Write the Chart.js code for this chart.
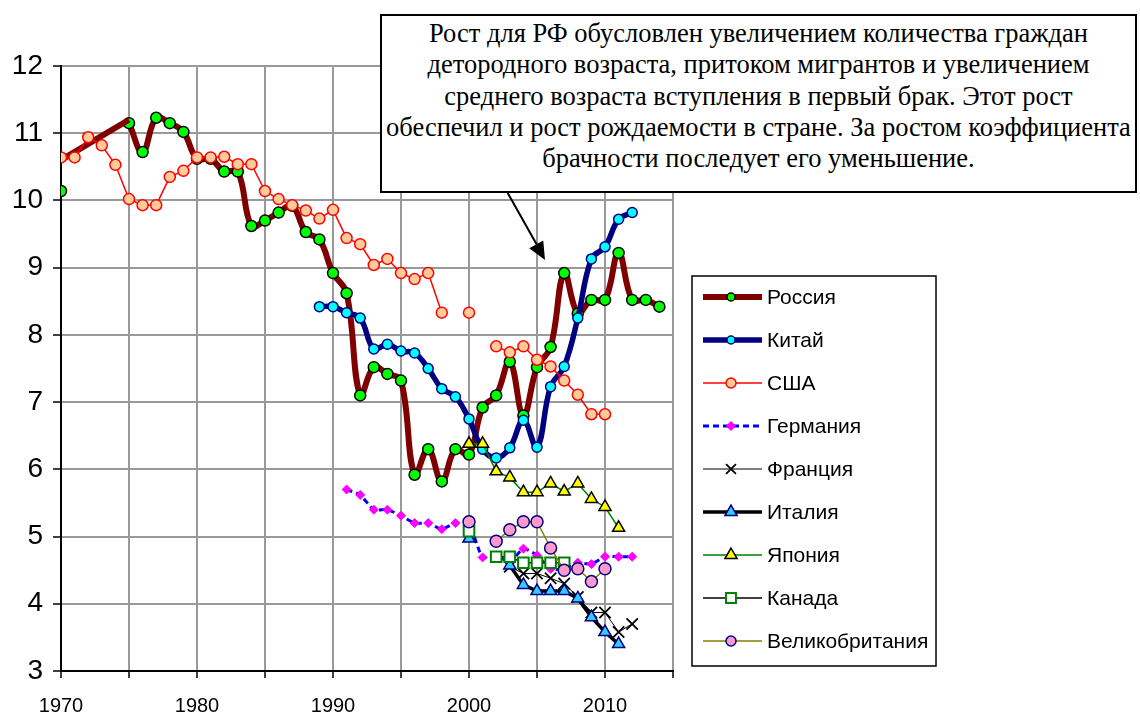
<!DOCTYPE html>
<html>
<head>
<meta charset="utf-8">
<script src="https://cdn.jsdelivr.net/npm/chart.js@4.4.0/dist/chart.umd.min.js"></script>
<style>
  body { margin: 0; background: #fff; }
  #wrap { position: relative; width: 1140px; height: 713px; }
  #note {
    position: absolute; left: 380px; top: 14px; width: 757px; height: 179px;
    box-sizing: border-box; border: 2px solid #000; background: #fff;
    font-family: "Liberation Serif", "Times New Roman", serif; font-size: 26.5px;
    line-height: 31.3px; text-align: center; padding-top: 2px; color: #000;
    white-space: nowrap; overflow: hidden;
  }
</style>
</head>
<body>
<div id="wrap">
  <canvas id="myChart" width="1140" height="713"></canvas>
  <div id="note">Рост для РФ обусловлен увеличением количества граждан<br>детородного возраста, притоком мигрантов и увеличением<br>среднего возраста вступления в первый брак. Этот рост<br>обеспечил и рост рождаемости в стране. За ростом коэффициента<br>брачности последует его уменьшение.</div>
</div>
<script>
// values per country, first year given separately
const russiaStart = 1975
const russia = [11.15, 10.72, 11.23, 11.15, 11.02, 10.62, 10.62, 10.43, 10.43, 9.62,
  9.7, 9.82, 9.92, 9.53, 9.42, 8.92, 8.62, 7.1, 7.52, 7.42,
  7.32, 5.92, 6.3, 5.82, 6.3, 6.22, 6.92, 7.1, 7.6, 6.8,
  7.52, 7.82, 8.92, 8.32, 8.52, 8.52, 9.22, 8.52, 8.52, 8.42]
const russiaEarlyYears = [1970, 1975]
const russiaEarly = [10.6, 11.2]
const russia1970 = 10.14

const chinaStart = 1989
const china = [8.42, 8.42, 8.33, 8.25, 7.79, 7.86, 7.76, 7.73, 7.5, 7.2,
  7.08, 6.75, 6.3, 6.17, 6.32, 6.73, 6.33, 7.23, 7.53, 8.25,
  9.13, 9.31, 9.72, 9.82]

const usaStart = 1970
const usa = [10.64, 10.64, 10.94, 10.82, 10.53, 10.02, 9.93, 9.93, 10.35, 10.44,
  10.64, 10.64, 10.65, 10.54, 10.54, 10.14, 10.02, 9.93, 9.85, 9.73,
  9.86, 9.44, 9.35, 9.04, 9.13, 8.92, 8.83, 8.92, 8.33, null,
  8.33, null, 7.83, 7.74, 7.83, 7.63, 7.53, 7.32, 7.11, 6.82, 6.82]

const germanyStart = 1991
const germany = [5.7, 5.62, 5.4, 5.4, 5.31, 5.2, 5.2, 5.11, 5.2, 5.18,
  4.69, 4.72, 4.62, 4.82, 4.72, 4.52, 4.52, 4.61, 4.59, 4.7, 4.7, 4.7]

const franceStart = 2003
const france = [4.55, 4.45, 4.45, 4.38, 4.3, 4.1, 3.87, 3.87, 3.58, 3.7]

const italyStart = 2000
const italy = [4.97, null, null, 4.57, 4.28, 4.19, 4.19, 4.19, 4.08, 3.8, 3.58, 3.4]

const japanStart = 2000
const japan = [6.38, 6.38, 5.97, 5.88, 5.66, 5.66, 5.79, 5.67, 5.79, 5.56, 5.44, 5.13]

const canadaStart = 2000
const canada = [5.08, null, 4.7, 4.7, 4.61, 4.61, 4.61, 4.61]

const ukStart = 2000
const uk = [5.22, null, 4.93, 5.1, 5.22, 5.22, 4.83, 4.5, 4.52, 4.33, 4.52]

const yearLabels = [1970, 1980, 1990, 2000, 2010]

function pts(start, vals) {
  return vals.map((v, i) => ({ x: start + i, y: v }))
}

Chart.defaults.font.family = '"Liberation Sans", Arial, sans-serif'
Chart.defaults.color = '#000'

const datasets = [
  { label: 'Россия', data: pts(russiaStart, russia), borderColor: '#800000', borderWidth: 6, tension: 0.4,
    pointStyle: 'circle', pointRadius: 5.5, pointBackgroundColor: '#00ff00', pointBorderColor: '#000', pointBorderWidth: 1.5, order: 12 },
  { label: 'Китай', data: pts(chinaStart, china), borderColor: '#000080', borderWidth: 5.5, tension: 0.4,
    pointStyle: 'circle', pointRadius: 5, pointBackgroundColor: '#00ffff', pointBorderColor: '#000080', pointBorderWidth: 1.5, order: 9 },
  { label: 'США', data: pts(usaStart, usa), borderColor: '#ff0000', borderWidth: 1.5, tension: 0, spanGaps: false,
    pointStyle: 'circle', pointRadius: 5.5, pointBackgroundColor: '#ffcc99', pointBorderColor: '#ff0000', pointBorderWidth: 1.5, order: 8 },
  { label: 'Германия', data: pts(germanyStart, germany), borderColor: '#0000ff', borderWidth: 3, borderDash: [6, 4], tension: 0.2,
    pointStyle: 'rectRot', pointRadius: 4.5, pointBackgroundColor: '#ff00ff', pointBorderColor: '#ff00ff', pointBorderWidth: 1, order: 7 },
  { label: 'Франция', data: pts(franceStart, france), borderColor: '#000', borderWidth: 1, tension: 0,
    pointStyle: 'crossRot', pointRadius: 8, pointBackgroundColor: '#000', pointBorderColor: '#000', pointBorderWidth: 1.8, order: 6 },
  { label: 'Италия', data: pts(italyStart, italy), borderColor: '#000', borderWidth: 3.5, tension: 0,
    pointStyle: 'triangle', pointRadius: 7, pointBackgroundColor: '#33ccff', pointBorderColor: '#000080', pointBorderWidth: 1.5, order: 5 },
  { label: 'Япония', data: pts(japanStart, japan), borderColor: '#008000', borderWidth: 1.5, tension: 0,
    pointStyle: 'triangle', pointRadius: 7, pointBackgroundColor: '#ffff00', pointBorderColor: '#000', pointBorderWidth: 1.5, order: 4 },
  { label: 'Канада', data: pts(canadaStart, canada), borderColor: '#000', borderWidth: 1.5, tension: 0,
    pointStyle: 'rect', pointRadius: 7.5, pointBackgroundColor: '#fff', pointBorderColor: '#008000', pointBorderWidth: 2, order: 3 },
  { label: 'Великобритания', data: pts(ukStart, uk), borderColor: '#808000', borderWidth: 1.5, tension: 0,
    pointStyle: 'circle', pointRadius: 6, pointBackgroundColor: '#ff99cc', pointBorderColor: '#000080', pointBorderWidth: 1.5, order: 2 },
  // Russia: straight segment 1970-1975 and lone 1970 marker
  { label: '', data: russiaEarlyYears.map((y, i) => ({ x: y, y: russiaEarly[i] })), borderColor: '#800000', borderWidth: 6,
    tension: 0, pointRadius: 0, order: 11 },
  { label: '', data: [{ x: 1970, y: russia1970 }], showLine: false, pointStyle: 'circle', pointRadius: 5.5,
    pointBackgroundColor: '#00ff00', pointBorderColor: '#000', pointBorderWidth: 1.5, order: 10 }
]

// legend radii differ a bit from the plot markers
const legendRadius = [4, 4, 5, 4.5, 7, 7, 7, 7, 5]

const extras = {
  id: 'extras',
  afterDraw(chart) {
    const ctx = chart.ctx
    ctx.save()
    // legend box
    const bx = 692, by = 276, bw = 244, bh = 390
    ctx.fillStyle = '#fff'
    ctx.fillRect(bx, by, bw, bh)
    ctx.strokeStyle = '#000'
    ctx.lineWidth = 1.5
    ctx.strokeRect(bx, by, bw, bh)
    ctx.font = '21px "Liberation Sans", Arial, sans-serif'
    ctx.textBaseline = 'middle'
    for (let i = 0; i < 9; i++) {
      const d = datasets[i]
      const y = 297 + i * 43
      ctx.strokeStyle = d.borderColor
      ctx.lineWidth = d.borderWidth
      ctx.setLineDash(d.borderDash || [])
      ctx.beginPath()
      ctx.moveTo(703, y)
      ctx.lineTo(762, y)
      ctx.stroke()
      ctx.setLineDash([])
      ctx.fillStyle = d.pointBackgroundColor
      ctx.strokeStyle = d.pointBorderColor
      ctx.lineWidth = d.pointBorderWidth
      Chart.helpers.drawPoint(ctx, { pointStyle: d.pointStyle, radius: legendRadius[i], borderWidth: d.pointBorderWidth, rotation: 0 }, 731, y)
      ctx.fillStyle = '#000'
      ctx.fillText(d.label, 767, y + 1)
    }
    // arrow to the 2007 rise
    ctx.strokeStyle = '#000'
    ctx.fillStyle = '#000'
    ctx.lineWidth = 2
    ctx.beginPath()
    ctx.moveTo(506, 190)
    ctx.lineTo(537, 245)
    ctx.stroke()
    const ang = Math.atan2(260 - 190, 545 - 506)
    ctx.beginPath()
    ctx.moveTo(545, 260)
    ctx.lineTo(545 - 18 * Math.cos(ang) + 8 * Math.sin(ang), 260 - 18 * Math.sin(ang) - 8 * Math.cos(ang))
    ctx.lineTo(545 - 18 * Math.cos(ang) - 8 * Math.sin(ang), 260 - 18 * Math.sin(ang) + 8 * Math.cos(ang))
    ctx.closePath()
    ctx.fill()
    ctx.restore()
  }
}

new Chart(document.getElementById('myChart'), {
  type: 'line',
  data: { datasets: datasets },
  options: {
    responsive: false,
    animation: false,
    devicePixelRatio: 1,
    layout: { padding: { top: 66, right: 467, left: 0, bottom: 0 } },
    plugins: { legend: { display: false }, tooltip: { enabled: false } },
    scales: {
      x: {
        type: 'linear', min: 1970, max: 2015,
        afterFit: s => { s.height = 42 },
        ticks: { stepSize: 5, padding: 16, font: { size: 20 },
          callback: v => yearLabels.includes(v) ? String(v) : '' },
        grid: { color: '#999', lineWidth: 2, tickLength: 7, tickColor: '#000', tickWidth: 1.5 },
        border: { color: '#000', width: 2 }
      },
      y: {
        min: 3, max: 12,
        afterFit: s => { s.width = 61 },
        ticks: { stepSize: 0.5, padding: 10, font: { size: 28 },
          callback: v => Number.isInteger(v) ? String(v) : '' },
        grid: {
          color: c => Number.isInteger(c.tick.value) ? '#999' : '#cccccc',
          lineWidth: 2, tickLength: 8,
          tickColor: c => Number.isInteger(c.tick.value) ? '#000' : 'rgba(0,0,0,0)', tickWidth: 1.5
        },
        border: { color: '#000', width: 2 }
      }
    }
  },
  plugins: [extras]
})
</script>
</body>
</html>
